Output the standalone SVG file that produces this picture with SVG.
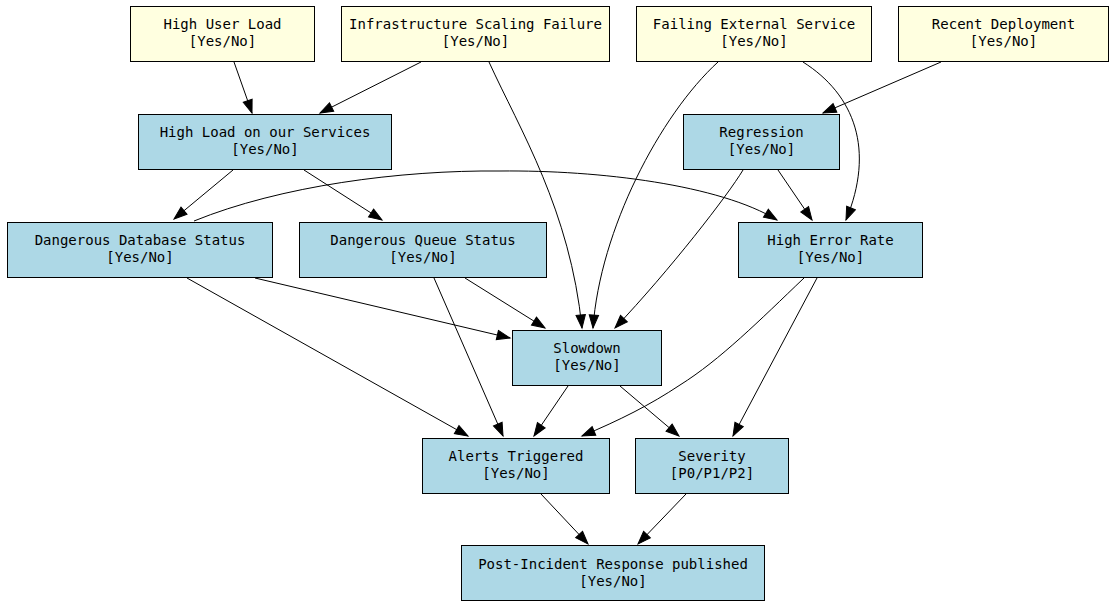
<svg xmlns="http://www.w3.org/2000/svg" width="1116" height="607" viewBox="0 0 1116 607">
<style>
.n rect{stroke:#000;stroke-width:1}
.y rect{fill:#ffffe0}
.b rect{fill:#add8e6}
text{font-family:"DejaVu Sans Mono","Liberation Mono",monospace;font-size:14px;text-anchor:middle;fill:#000}
#edges path{fill:none;stroke:#000;stroke-width:1;marker-end:url(#ah)}
</style>
<defs>
<marker id="ah" markerUnits="userSpaceOnUse" markerWidth="14" markerHeight="10" refX="13" refY="4.7" orient="auto" overflow="visible">
<path d="M0,0 L13,4.7 L0,9.4 z" fill="#000" stroke="#000" stroke-width="1"/>
</marker>
</defs>
<rect width="1116" height="607" fill="#fff"/>
<g id="edges">
<path d="M234,62 L252,113"/>
<path d="M421,62 L320,113"/>
<path d="M489,62 C520,130 570,210 582,328"/>
<path d="M718,62 C660,115 600,230 593,328"/>
<path d="M803,62 C855,95 875,150 846,220"/>
<path d="M941,62 L823,113"/>
<path d="M233,170 L174,219"/>
<path d="M304,170 L382,220"/>
<path d="M778,170 L812,220"/>
<path d="M743,170 C728,195 670,270 615,328"/>
<path d="M194,221 C280,186 400,170 500,171 C600,170 720,185 777,220"/>
<path d="M255,278 L510,338"/>
<path d="M187,278 L468,436"/>
<path d="M465,278 L545,328"/>
<path d="M434,278 L503,436"/>
<path d="M804,278 C760,320 720,360 680,385 C650,405 620,420 582,436"/>
<path d="M817,278 L733,436"/>
<path d="M568,386 L534,436"/>
<path d="M620,386 L679,436"/>
<path d="M541,494 L588,544"/>
<path d="M686,494 L638,544"/>
</g>
<g id="n1" class="n y"><rect x="130.5" y="6.5" width="184" height="55"/><text x="222.5" y="29">High User Load</text><text x="222.5" y="46">[Yes/No]</text></g>
<g id="n2" class="n y"><rect x="341.5" y="6.5" width="268" height="55"/><text x="475.5" y="29">Infrastructure Scaling Failure</text><text x="475.5" y="46">[Yes/No]</text></g>
<g id="n3" class="n y"><rect x="636.5" y="6.5" width="235" height="55"/><text x="754" y="29">Failing External Service</text><text x="754" y="46">[Yes/No]</text></g>
<g id="n4" class="n y"><rect x="898.5" y="6.5" width="210" height="55"/><text x="1003.5" y="29">Recent Deployment</text><text x="1003.5" y="46">[Yes/No]</text></g>
<g id="n5" class="n b"><rect x="138.5" y="114.5" width="253" height="55"/><text x="265" y="137">High Load on our Services</text><text x="265" y="154">[Yes/No]</text></g>
<g id="n6" class="n b"><rect x="683.5" y="114.5" width="156" height="55"/><text x="761.5" y="137">Regression</text><text x="761.5" y="154">[Yes/No]</text></g>
<g id="n7" class="n b"><rect x="7.5" y="222.5" width="265" height="55"/><text x="140" y="245">Dangerous Database Status</text><text x="140" y="262">[Yes/No]</text></g>
<g id="n8" class="n b"><rect x="299.5" y="222.5" width="247" height="55"/><text x="423" y="245">Dangerous Queue Status</text><text x="423" y="262">[Yes/No]</text></g>
<g id="n9" class="n b"><rect x="738.5" y="222.5" width="184" height="55"/><text x="830.5" y="245">High Error Rate</text><text x="830.5" y="262">[Yes/No]</text></g>
<g id="n10" class="n b"><rect x="512.5" y="330.5" width="149" height="55"/><text x="587" y="353">Slowdown</text><text x="587" y="370">[Yes/No]</text></g>
<g id="n11" class="n b"><rect x="422.5" y="438.5" width="187" height="55"/><text x="516" y="461">Alerts Triggered</text><text x="516" y="478">[Yes/No]</text></g>
<g id="n12" class="n b"><rect x="635.5" y="438.5" width="153" height="55"/><text x="712" y="461">Severity</text><text x="712" y="478">[P0/P1/P2]</text></g>
<g id="n13" class="n b"><rect x="461.5" y="545.5" width="303" height="55"/><text x="613" y="569">Post-Incident Response published</text><text x="613" y="586">[Yes/No]</text></g>
</svg>
